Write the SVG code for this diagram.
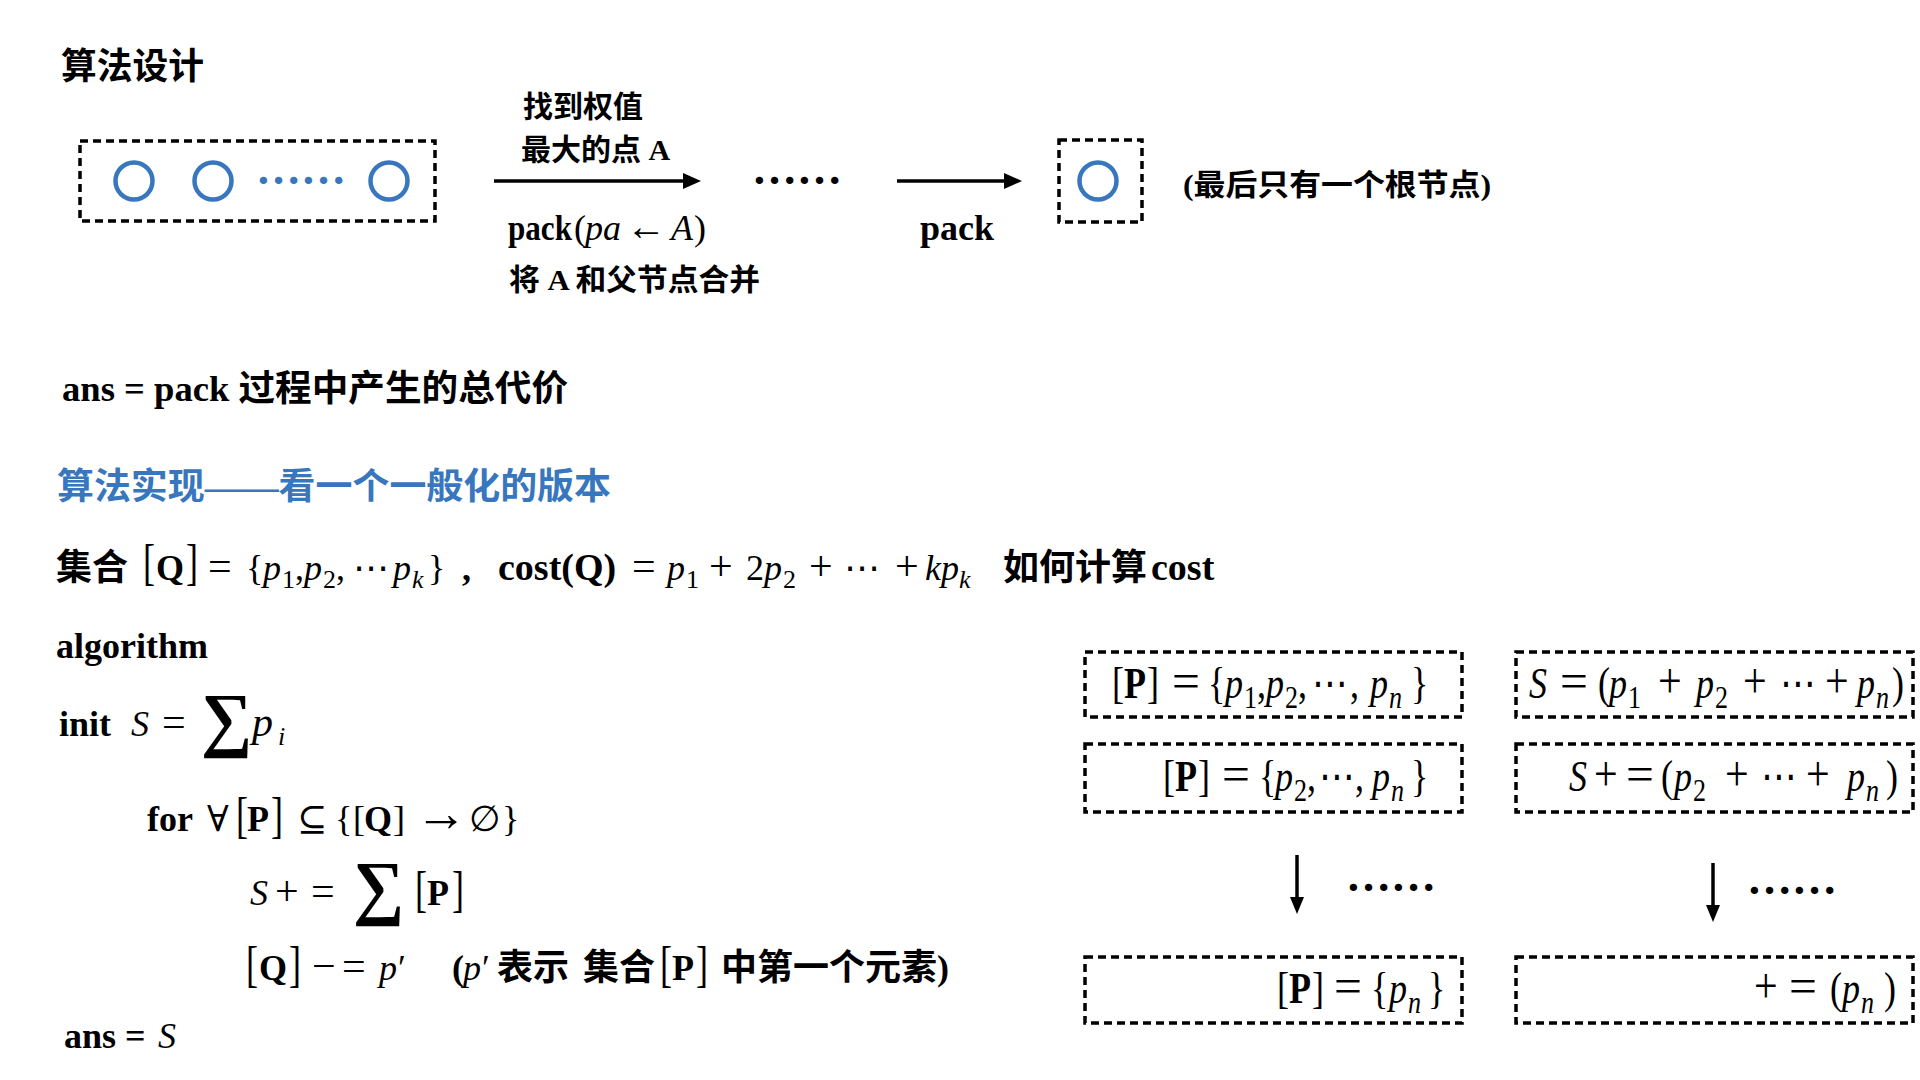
<svg xmlns="http://www.w3.org/2000/svg" width="1920" height="1080" viewBox="0 0 1920 1080">
<style>
text{font-family:"Liberation Serif","DejaVu Serif","DejaVu Sans","Noto Sans CJK SC",serif;fill:#000;font-size:36px;font-weight:700}
.n{font-weight:400}
.i{font-style:italic;font-weight:400}
.s{font-size:26px}
.op{font-size:42px;font-weight:400}
.big{font-size:50px;font-weight:400}
.sig{font-size:72px;font-weight:700}
.lab{font-size:30px}
.box{fill:none;stroke:#000;stroke-width:3.5;stroke-dasharray:8 5}
.node{fill:none;stroke:#3877bd;stroke-width:4.5}
.blue{fill:#3877bd}
.arr{stroke:#000;stroke-width:3.5;fill:none}
.dots{font-size:45px}
</style>
<defs>
<marker id="ah" markerUnits="userSpaceOnUse" markerWidth="18" markerHeight="16" refX="10" refY="8" orient="auto"><path d="M0,0 L18,8 L0,16 z" fill="#000"/></marker>
<marker id="ah2" markerUnits="userSpaceOnUse" markerWidth="17" markerHeight="14" refX="9" refY="7" orient="auto"><path d="M0,0 L17,7 L0,14 z" fill="#000"/></marker>
</defs>
<rect width="1920" height="1080" fill="#fff"/>

<g id="heading"><text x="61" y="79" textLength="143" lengthAdjust="spacingAndGlyphs">算法设计</text></g>

<g id="start-set">
<rect class="box" x="80" y="141" width="355" height="80"/>
<circle class="node" cx="134" cy="181" r="18.5"/>
<circle class="node" cx="213" cy="181" r="18.5"/>
<circle class="node" cx="389" cy="181" r="18.5"/>
<text class="dots blue" x="256" y="184">……</text>
</g>

<g id="step-label">
<text class="lab" x="523" y="117">找到权值</text>
<text class="lab" x="521" y="160">最大的点 A</text>
<text y="240" font-size="32"><tspan x="508" textLength="64" lengthAdjust="spacingAndGlyphs">pack</tspan><tspan class="n" x="574">(</tspan><tspan class="i" x="585">pa</tspan><tspan class="n" x="626" font-size="40">←</tspan><tspan class="i" x="671">A</tspan><tspan class="n" x="694">)</tspan></text>
<text class="lab" x="509" y="290" textLength="251" lengthAdjust="spacingAndGlyphs">将 A 和父节点合并</text>
</g>

<g id="middle-dots"><text class="dots" x="752" y="184">……</text></g>

<g id="pack-label"><text x="920" y="240" font-size="32">pack</text></g>

<g id="root-set">
<rect class="box" x="1059" y="140" width="83" height="82"/>
<circle class="node" cx="1098" cy="181" r="18.5"/>
</g>
<g id="root-note"><text class="lab" x="1183" y="195" textLength="308" lengthAdjust="spacingAndGlyphs">(最后只有一个根节点)</text></g>

<g id="ans-line"><text x="62" y="401" textLength="506" lengthAdjust="spacingAndGlyphs">ans = pack 过程中产生的总代价</text></g>

<g id="impl-title"><text class="blue" x="57" y="499" textLength="554" lengthAdjust="spacingAndGlyphs">算法实现——看一个一般化的版本</text></g>

<g id="set-def">
<text y="580"><tspan x="56">集合</tspan><tspan class="big" x="143" y="579" textLength="12" lengthAdjust="spacingAndGlyphs">[</tspan><tspan x="156" y="580">Q</tspan><tspan class="big" x="186" y="579" textLength="12" lengthAdjust="spacingAndGlyphs">]</tspan><tspan class="op" x="208" y="580">=</tspan><tspan class="n" x="246">{</tspan><tspan class="i" x="263">p</tspan><tspan class="n s" x="282" y="588">1</tspan><tspan class="n" x="295" y="580">,</tspan><tspan class="i" x="304">p</tspan><tspan class="n s" x="323" y="588">2</tspan><tspan class="n" x="336" y="580">,</tspan><tspan class="n" x="353">⋯</tspan><tspan class="i" x="393">p</tspan><tspan class="i s" x="412" y="588">k</tspan><tspan class="n" x="428" y="580">}</tspan><tspan x="462">,</tspan><tspan x="498" font-size="38">cost(Q)</tspan><tspan class="op" x="632">=</tspan><tspan class="i" x="667">p</tspan><tspan class="n s" x="686" y="588">1</tspan><tspan class="op" x="709" y="580">+</tspan><tspan class="n" x="746">2</tspan><tspan class="i" x="764">p</tspan><tspan class="n s" x="783" y="588">2</tspan><tspan class="op" x="809" y="580">+</tspan><tspan class="n" x="844">⋯</tspan><tspan class="op" x="895">+</tspan><tspan class="i" x="925">kp</tspan><tspan class="i s" x="959" y="588">k</tspan><tspan x="1003" y="580">如何计算</tspan><tspan x="1151" font-size="38">cost</tspan></text>
</g>

<g id="algorithm">
<text x="56" y="658">algorithm</text>
<text y="736"><tspan x="59">init</tspan><tspan class="i" x="131">S</tspan><tspan class="op" x="162">=</tspan><tspan class="sig" x="201" y="743">∑</tspan><tspan class="i" x="252" y="736" font-size="42">p</tspan><tspan class="i s" x="278" y="745">i</tspan></text>
<text y="831"><tspan x="147">for</tspan><tspan class="n" x="207">∀</tspan><tspan class="big" x="236" y="832" textLength="12" lengthAdjust="spacingAndGlyphs">[</tspan><tspan x="247" y="831">P</tspan><tspan class="big" x="271" y="832" textLength="12" lengthAdjust="spacingAndGlyphs">]</tspan><tspan class="n" x="297" y="831">⊆</tspan><tspan class="n" x="335">{</tspan><tspan class="n" x="353">[</tspan><tspan x="364">Q</tspan><tspan class="n" x="393">]</tspan><tspan class="n" x="415" font-size="52">→</tspan><tspan class="n" x="469" y="831">∅</tspan><tspan class="n" x="502">}</tspan></text>
<text y="905"><tspan class="i" x="250">S</tspan><tspan class="op" x="275">+</tspan><tspan class="op" x="311">=</tspan><tspan class="sig" x="353" y="911">∑</tspan><tspan class="big" x="415" y="906" textLength="12" lengthAdjust="spacingAndGlyphs">[</tspan><tspan x="427" y="905">P</tspan><tspan class="big" x="452" y="906" textLength="12" lengthAdjust="spacingAndGlyphs">]</tspan></text>
<text y="980"><tspan class="big" x="246" y="981" textLength="12" lengthAdjust="spacingAndGlyphs">[</tspan><tspan x="259" y="980">Q</tspan><tspan class="big" x="289" y="981" textLength="12" lengthAdjust="spacingAndGlyphs">]</tspan><tspan class="op" x="312" y="980">−</tspan><tspan class="op" x="342">=</tspan><tspan class="i" x="379">p</tspan><tspan class="n" x="398">′</tspan><tspan x="452">(</tspan><tspan class="i" x="463">p</tspan><tspan class="n" x="482">′</tspan><tspan x="497">表示</tspan><tspan x="583">集合</tspan><tspan class="big" x="660" y="981" textLength="12" lengthAdjust="spacingAndGlyphs">[</tspan><tspan x="672" y="980">P</tspan><tspan class="big" x="696" y="981" textLength="12" lengthAdjust="spacingAndGlyphs">]</tspan><tspan x="721" y="980">中第一个元素)</tspan></text>
<text y="1048"><tspan x="64">ans =</tspan><tspan class="i" x="158">S</tspan></text>
</g>

<g id="p-set-1"><rect class="box" x="1085" y="652" width="377" height="65"/>
<text y="698" transform="matrix(1,0,0,1.22,0,-153.56)"><tspan class="n" x="1112">[</tspan><tspan x="1124">P</tspan><tspan class="n" x="1147">]</tspan><tspan class="op" x="1172" textLength="28" lengthAdjust="spacingAndGlyphs">=</tspan><tspan class="n" x="1208">{</tspan><tspan class="i" x="1225">p</tspan><tspan class="n s" x="1244" y="706">1</tspan><tspan class="n" x="1257" y="698">,</tspan><tspan class="i" x="1266">p</tspan><tspan class="n s" x="1285" y="706">2</tspan><tspan class="n" x="1298" y="698">,</tspan><tspan class="n" x="1312">⋯</tspan><tspan class="n" x="1350">,</tspan><tspan class="i" x="1370">p</tspan><tspan class="i s" x="1389" y="706">n</tspan><tspan class="n" x="1411" y="698">}</tspan></text></g>

<g id="s-sum-1"><rect class="box" x="1516" y="652" width="397" height="65"/>
<text y="698" transform="matrix(1,0,0,1.22,0,-153.56)"><tspan class="i" x="1529">S</tspan><tspan class="op" x="1560" textLength="28" lengthAdjust="spacingAndGlyphs">=</tspan><tspan class="n" x="1598">(</tspan><tspan class="i" x="1609">p</tspan><tspan class="n s" x="1628" y="706">1</tspan><tspan class="op" x="1658" y="698">+</tspan><tspan class="i" x="1696">p</tspan><tspan class="n s" x="1715" y="706">2</tspan><tspan class="op" x="1743" y="698">+</tspan><tspan class="n" x="1780">⋯</tspan><tspan class="op" x="1825">+</tspan><tspan class="i" x="1857">p</tspan><tspan class="i s" x="1876" y="706">n</tspan><tspan class="n" x="1892" y="698">)</tspan></text></g>

<g id="p-set-2"><rect class="box" x="1085" y="744" width="377" height="68"/>
<text y="791" transform="matrix(1,0,0,1.22,0,-174.02)"><tspan class="n" x="1163">[</tspan><tspan x="1175">P</tspan><tspan class="n" x="1198">]</tspan><tspan class="op" x="1222" textLength="28" lengthAdjust="spacingAndGlyphs">=</tspan><tspan class="n" x="1259">{</tspan><tspan class="i" x="1275">p</tspan><tspan class="n s" x="1294" y="799">2</tspan><tspan class="n" x="1307" y="791">,</tspan><tspan class="n" x="1319">⋯</tspan><tspan class="n" x="1355">,</tspan><tspan class="i" x="1372">p</tspan><tspan class="i s" x="1391" y="799">n</tspan><tspan class="n" x="1411" y="791">}</tspan></text></g>

<g id="s-sum-2"><rect class="box" x="1516" y="744" width="397" height="68"/>
<text y="791" transform="matrix(1,0,0,1.22,0,-174.02)"><tspan class="i" x="1569">S</tspan><tspan class="op" x="1594">+</tspan><tspan class="op" x="1626" textLength="28" lengthAdjust="spacingAndGlyphs">=</tspan><tspan class="n" x="1661">(</tspan><tspan class="i" x="1674">p</tspan><tspan class="n s" x="1693" y="799">2</tspan><tspan class="op" x="1725" y="791">+</tspan><tspan class="n" x="1761">⋯</tspan><tspan class="op" x="1806">+</tspan><tspan class="i" x="1847">p</tspan><tspan class="i s" x="1866" y="799">n</tspan><tspan class="n" x="1886" y="791">)</tspan></text></g>

<g id="more-left"><text class="dots" x="1346" y="891">……</text></g>
<g id="more-right"><text class="dots" x="1747" y="894">……</text></g>

<g id="p-set-n"><rect class="box" x="1085" y="957" width="377" height="66"/>
<text y="1003" transform="matrix(1,0,0,1.22,0,-220.66)"><tspan class="n" x="1277">[</tspan><tspan x="1289">P</tspan><tspan class="n" x="1312">]</tspan><tspan class="op" x="1334" textLength="28" lengthAdjust="spacingAndGlyphs">=</tspan><tspan class="n" x="1371">{</tspan><tspan class="i" x="1389">p</tspan><tspan class="i s" x="1408" y="1011">n</tspan><tspan class="n" x="1428" y="1003">}</tspan></text></g>

<g id="s-sum-n"><rect class="box" x="1516" y="957" width="397" height="66"/>
<text y="1003" transform="matrix(1,0,0,1.22,0,-220.66)"><tspan class="op" x="1754">+</tspan><tspan class="op" x="1789" textLength="28" lengthAdjust="spacingAndGlyphs">=</tspan><tspan class="n" x="1830">(</tspan><tspan class="i" x="1842">p</tspan><tspan class="i s" x="1861" y="1011">n</tspan><tspan class="n" x="1884" y="1003">)</tspan></text></g>

<g id="connectors">
<line class="arr" x1="494" y1="181" x2="693" y2="181" marker-end="url(#ah)"/>
<line class="arr" x1="897" y1="181" x2="1014" y2="181" marker-end="url(#ah)"/>
<line class="arr" x1="1297" y1="855" x2="1297" y2="906" marker-end="url(#ah2)"/>
<line class="arr" x1="1713" y1="863" x2="1713" y2="914" marker-end="url(#ah2)"/>
</g>
</svg>
